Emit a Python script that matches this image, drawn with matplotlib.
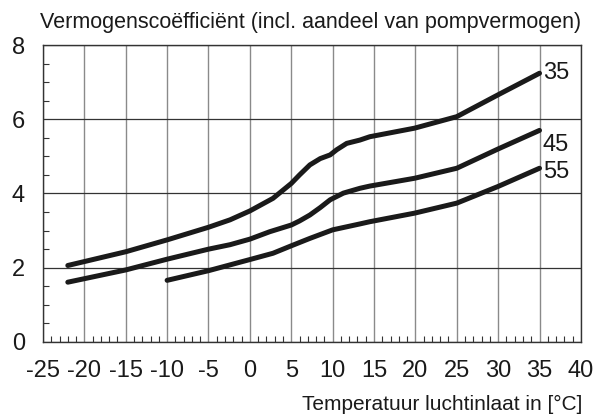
import matplotlib.pyplot as plt
from matplotlib.ticker import MultipleLocator, FuncFormatter

plt.rcParams['font.family'] = ['Liberation Sans', 'DejaVu Sans']

# Vermogenscoëfficiënt per aanvoertemperatuur (35, 45, 55 °C)
temp_35 = [-22, -15, -10, -5, -2.4, 0, 2.8, 5.0, 6.0, 7.25, 8.5, 9.7, 10.5, 11.7, 13.3, 14.5, 19.9, 25.0, 30.0, 35.0]
cop_35 = [2.06, 2.43, 2.75, 3.09, 3.29, 3.53, 3.87, 4.27, 4.50, 4.77, 4.94, 5.04, 5.18, 5.35, 5.44, 5.53, 5.76, 6.07, 6.66, 7.24]

temp_45 = [-22, -15, -10, -5, -2.4, 0, 2.4, 5.0, 6.0, 7.25, 8.5, 9.7, 11.3, 13.3, 14.5, 19.9, 25.0, 30.0, 35.0]
cop_45 = [1.61, 1.94, 2.23, 2.50, 2.62, 2.77, 2.97, 3.15, 3.26, 3.42, 3.62, 3.83, 4.01, 4.14, 4.20, 4.41, 4.68, 5.20, 5.70]

temp_55 = [-10, -5, 0, 2.8, 5.0, 7.25, 10.0, 13.3, 14.5, 19.9, 25.0, 30.0, 35.0]
cop_55 = [1.66, 1.92, 2.22, 2.39, 2.59, 2.79, 3.02, 3.18, 3.24, 3.47, 3.74, 4.19, 4.68]

labels = ['35', '45', '55']
label_y = [7.25, 5.31, 4.59]

fig = plt.figure(figsize=(5.97, 4.17), dpi=100)
ax = fig.add_axes([0.072, 0.180, 0.901, 0.712])

for t, c in [(temp_35, cop_35), (temp_45, cop_45), (temp_55, cop_55)]:
    ax.plot(t, c, color='#1a1a1a', lw=3.6, solid_capstyle='round', solid_joinstyle='round', zorder=3)

for lab, y in zip(labels, label_y):
    ax.text(35.4, y, lab, fontsize=17, va='center', ha='left', color='#1a1a1a')

ax.set_xlim(-25, 40)
ax.set_ylim(0, 8)
ax.xaxis.set_major_locator(MultipleLocator(5))
ax.xaxis.set_minor_locator(MultipleLocator(1))
ax.yaxis.set_major_locator(MultipleLocator(2))
ax.yaxis.set_minor_locator(MultipleLocator(0.5))
# gewoon streepje als minteken
ax.xaxis.set_major_formatter(FuncFormatter(lambda v, p: f'{v:.0f}'))
ax.tick_params(which='major', length=0, labelsize=17, colors='#1a1a1a')
ax.tick_params(axis='x', which='major', pad=13)
ax.tick_params(axis='y', which='major', pad=13)
ax.tick_params(which='minor', direction='in', length=4, width=0.8, color='#333333')
ax.grid(True, axis='x', which='major', color='#8a8a8a', lw=1.0)
ax.grid(True, axis='y', which='major', color='#333333', lw=0.9)
for s in ax.spines.values():
    s.set_color('#333333')
    s.set_linewidth(1.0)

fig.text(0.973, 0.933, 'Vermogenscoëfficiënt (incl. aandeel van pompvermogen)',
         ha='right', va='baseline', fontsize=15.5, color='#1a1a1a')
fig.text(0.975, 0.017, 'Temperatuur luchtinlaat in [°C]',
         ha='right', va='baseline', fontsize=15, color='#1a1a1a')

fig.savefig('out.png', dpi=100)
